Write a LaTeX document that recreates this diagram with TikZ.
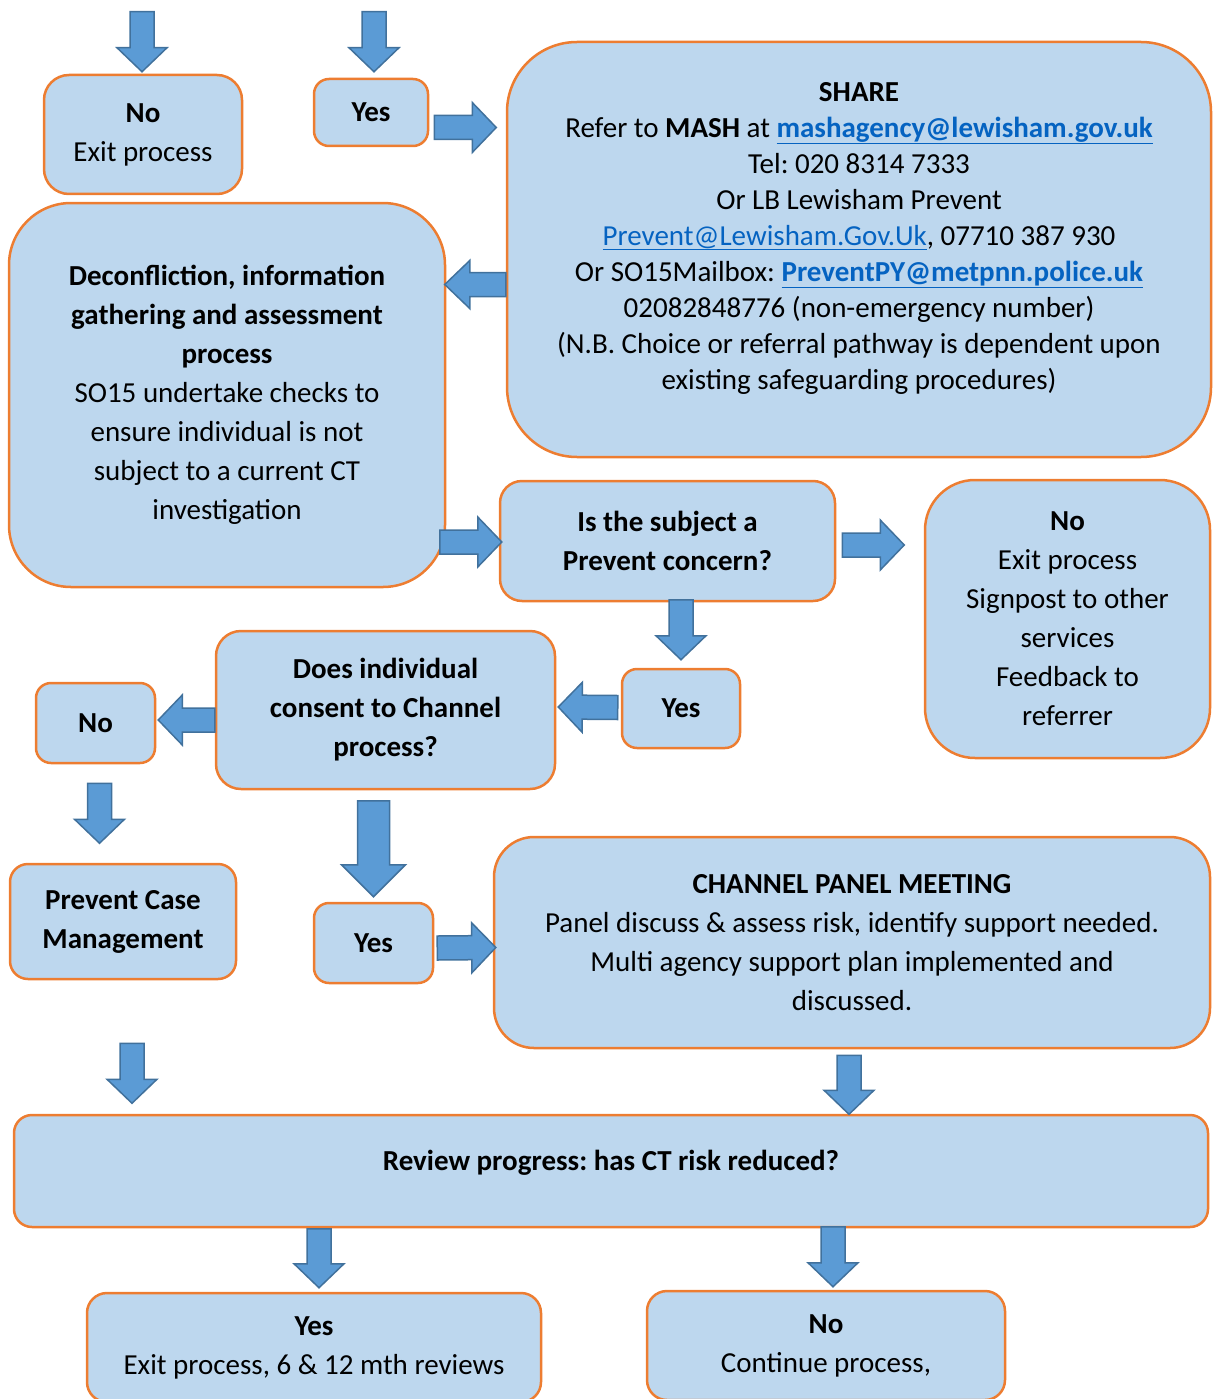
\documentclass[tikz,border=0pt]{standalone}
\usepackage{fontspec}
\setmainfont{Carlito}
\usetikzlibrary{calc}
\definecolor{boxfill}{HTML}{BDD7EE}
\definecolor{boxline}{HTML}{ED7D31}
\definecolor{arrowfill}{HTML}{5B9BD5}
\definecolor{arrowline}{HTML}{41719C}
\definecolor{linkblue}{HTML}{0563C1}
\newcommand{\mylink}[1]{\textcolor{linkblue}{\underline{#1}}}
% tail, tip, half shaft, half head, head length
\newcommand{\blockarrow}[5]{%
  \coordinate (ba-t) at #1;
  \coordinate (ba-p) at #2;
  \coordinate (ba-h) at ($(ba-p)!#5pt!(ba-t)$);
  \draw[flowarr] ($(ba-t)!#3pt!90:(ba-p)$) -- ($(ba-h)!#3pt!90:(ba-p)$)
    -- ($(ba-h)!#4pt!90:(ba-p)$) -- (ba-p) -- ($(ba-h)!#4pt!-90:(ba-p)$)
    -- ($(ba-h)!#3pt!-90:(ba-p)$) -- ($(ba-t)!#3pt!-90:(ba-p)$) -- cycle;}
\newcommand{\flowarrow}[2]{\blockarrow{#1}{#2}{12}{25}{24}}
\tikzset{
  box/.style={draw=boxline,fill=boxfill,line width=2.5pt,align=center,inner sep=0pt,
    font=\fontsize{29}{39}\selectfont},
  flowarr/.style={fill=arrowfill,draw=arrowline,line width=1.5pt,line join=miter}
}
\begin{document}
\frenchspacing
\begin{tikzpicture}[x=1pt,y=-1pt,line cap=round,line join=round]
\useasboundingbox (0,0) rectangle (1213,1399);
%boxes
\node[box,minimum width=198,minimum height=119,rounded corners=25pt] (noexit) at (143,134.5) {\textbf{No}\\Exit process};
\node[box,minimum width=114,minimum height=67,rounded corners=15pt] (yestop) at (371,112.5) {\textbf{Yes}};
\node[box,minimum width=704,minimum height=415,rounded corners=70pt,font=\fontsize{29}{36}\selectfont] (share) at (859,249.5) {\textbf{SHARE}\\
Refer to \textbf{MASH} at \mylink{\textbf{mashagency@lewisham.gov.uk}}\\
Tel: 020 8314 7333\\
Or LB Lewisham Prevent\\
\mylink{Prevent@Lewisham.Gov.Uk}, 07710 387 930\\
Or SO15Mailbox: \mylink{\textbf{PreventPY@metpnn.police.uk}}\\
02082848776 (non-emergency number)\\
(N.B. Choice or referral pathway is dependent upon\\
existing safeguarding procedures)\\[-8pt]\mbox{}};
\node[box,minimum width=436,minimum height=384,rounded corners=62pt] (deconf) at (227,395) {\textbf{Deconfliction, information}\\\textbf{gathering and assessment}\\\textbf{process}\\SO15 undertake checks to\\ensure individual is not\\subject to a current CT\\investigation};
\node[box,minimum width=335,minimum height=120,rounded corners=22pt] (concern) at (667.5,541) {\textbf{Is the subject a}\\\textbf{Prevent concern?}};
\node[box,minimum width=285,minimum height=278,rounded corners=50pt] (noright) at (1067.5,619) {\textbf{No}\\Exit process\\Signpost to other\\services\\Feedback to\\referrer};
\node[box,minimum width=339,minimum height=158,rounded corners=25pt] (consent) at (385.5,710) {\textbf{Does individual}\\\textbf{consent to Channel}\\\textbf{process?}};
\node[box,minimum width=118,minimum height=79,rounded corners=15pt] (yesmid) at (681,708.5) {\textbf{Yes}};
\node[box,minimum width=119,minimum height=80,rounded corners=15pt] (noleft) at (95.5,723) {\textbf{No}};
\node[box,minimum width=226,minimum height=115,rounded corners=18pt] (casemgmt) at (123,921.5) {\textbf{Prevent Case}\\\textbf{Management}};
\node[box,minimum width=119,minimum height=80,rounded corners=15pt] (yeslow) at (373.5,943) {\textbf{Yes}};
\node[box,minimum width=716,minimum height=211,rounded corners=40pt] (panel) at (852,942.5) {\textbf{CHANNEL PANEL MEETING}\\Panel discuss \& assess risk, identify support needed.\\Multi agency support plan implemented and\\discussed.};
\node[box,minimum width=1194,minimum height=112,rounded corners=18pt] (review) at (611,1171) {\textbf{Review progress: has CT risk reduced?}\\[-17pt]\mbox{}};
\node[box,minimum width=454,minimum height=109,rounded corners=20pt] (yesbot) at (314,1347.5) {\textbf{Yes}\\Exit process, 6 \& 12 mth reviews};
\node[box,minimum width=358,minimum height=109,rounded corners=20pt] (nobot) at (826,1345.5) {\textbf{No}\\Continue process,};
%arrows
\flowarrow{($(noexit.north)+(-1,-62)$)}{($(noexit.north)+(-1,-2)$)}
\flowarrow{($(yestop.north)+(3,-66)$)}{($(yestop.north)+(3,-6)$)}
\flowarrow{($(yestop.east)+(5,15)$)}{($(yestop.east)+(67,15)$)}
\blockarrow{($(share.west)+(0,35)$)}{($(share.west)+(-61,35)$)}{12}{24}{25}
\flowarrow{($(concern.west)+(-59,1)$)}{($(concern.west)+(3,1)$)}
\flowarrow{($(concern.east)+(6,4)$)}{($(concern.east)+(68,4)$)}
\flowarrow{($(yesmid.north)+(0,-68)$)}{($(yesmid.north)+(0,-8)$)}
\flowarrow{($(yesmid.west)+(-3,-1)$)}{($(consent.east)+(2,-3)$)}
\flowarrow{($(consent.west)+(0,10)$)}{($(noleft.east)+(2,-3)$)}
\flowarrow{($(noleft.south)+(4,19)$)}{($(noleft.south)+(4,79)$)}
\blockarrow{($(yeslow.north)+(0,-101)$)}{($(yeslow.north)+(0,-5)$)}{16}{32}{32}
\flowarrow{($(yeslow.east)+(3,5)$)}{($(panel.west)+(3,5)$)}
\flowarrow{($(casemgmt.south)+(9,63)$)}{($(casemgmt.south)+(9,123)$)}
\flowarrow{($(panel.south)+(-3,6)$)}{($(panel.south)+(-3,65)$)}
\flowarrow{($(yesbot.north)+(5,-63)$)}{($(yesbot.north)+(5,-4)$)}
\flowarrow{($(nobot.north)+(7,-63)$)}{($(nobot.north)+(7,-3)$)}
\end{tikzpicture}
\end{document}
